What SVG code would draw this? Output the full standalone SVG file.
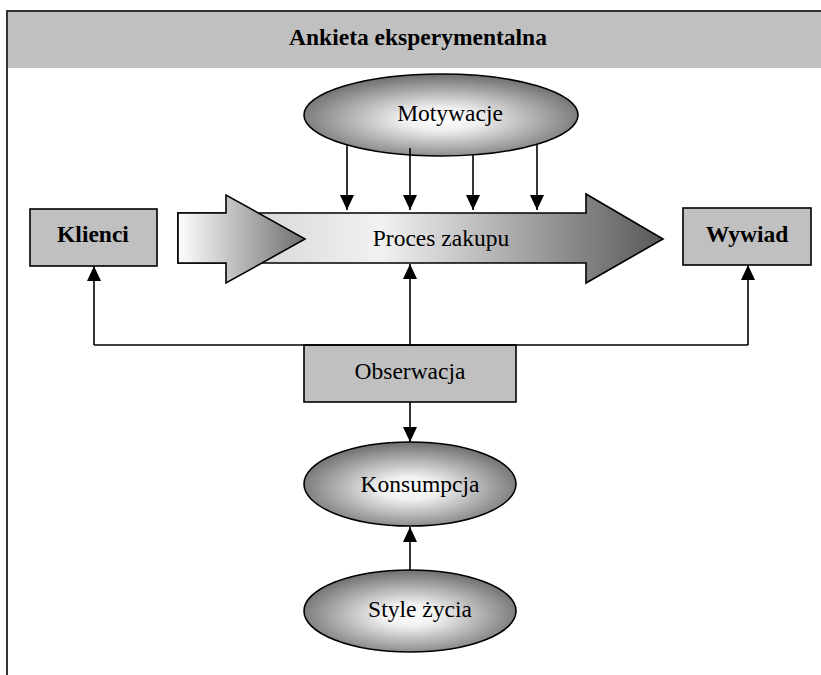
<svg xmlns="http://www.w3.org/2000/svg" width="821" height="675" viewBox="0 0 821 675">
<style>
.t{font-family:"Liberation Serif","Times New Roman",serif;font-size:23.5px;fill:#000;text-anchor:middle}
.b{font-weight:bold}
.box{fill:#c0c0c0;stroke:#000;stroke-width:1.6}
.ell{fill:url(#rg);stroke:#000;stroke-width:1.6}
.ln{fill:none;stroke:#000;stroke-width:1.6}
.arr{stroke:#000;stroke-width:1.6}
</style>
<defs>
<radialGradient id="rg" cx="50%" cy="55%" r="55%">
<stop offset="0" stop-color="#ffffff"/>
<stop offset="0.25" stop-color="#f0f0f0"/>
<stop offset="1" stop-color="#6e6e6e"/>
</radialGradient>
<linearGradient id="g2" gradientUnits="userSpaceOnUse" x1="178" y1="0" x2="663" y2="0">
<stop offset="0" stop-color="#c8c8c8"/>
<stop offset="0.42" stop-color="#f2f2f2"/>
<stop offset="1" stop-color="#585858"/>
</linearGradient>
<linearGradient id="g1" gradientUnits="userSpaceOnUse" x1="178" y1="0" x2="305" y2="0">
<stop offset="0" stop-color="#ffffff"/>
<stop offset="1" stop-color="#6e6e6e"/>
</linearGradient>
<marker id="ah" markerUnits="userSpaceOnUse" markerWidth="16" markerHeight="16" viewBox="0 0 16 16" refX="15" refY="8" orient="auto">
<path d="M0,1 L15,8 L0,15 Z" fill="#000"/>
</marker>
</defs>

<g id="frame">
<rect x="8" y="12" width="813" height="56" fill="#c0c0c0"/>
<path d="M7,675 V11 H821" fill="none" stroke="#333" stroke-width="2"/>
<text class="t b" x="418" y="45">Ankieta eksperymentalna</text>
</g>

<g id="proces">
<polygon class="arr" points="178,213 586,213 586,194 663,239 586,283 586,263 178,263" fill="url(#g2)"/>
<polygon class="arr" points="178,213 226,213 226,195 305,239 226,283 226,263 178,263" fill="url(#g1)"/>
<text class="t" x="441" y="246">Proces zakupu</text>
</g>

<g id="motywacje">
<ellipse class="ell" cx="441" cy="115" rx="137" ry="41"/>
<text class="t" x="450" y="121">Motywacje</text>
</g>

<g id="klienci">
<rect class="box" x="30" y="209" width="127" height="57"/>
<text class="t b" x="93" y="242">Klienci</text>
</g>

<g id="wywiad">
<rect class="box" x="683" y="208" width="128" height="57"/>
<text class="t b" x="747" y="242">Wywiad</text>
</g>

<g id="obserwacja">
<rect class="box" x="304" y="345" width="212" height="57"/>
<text class="t" x="410" y="379">Obserwacja</text>
</g>

<g id="konsumpcja">
<ellipse class="ell" cx="410" cy="484" rx="106" ry="42"/>
<text class="t" x="420" y="492">Konsumpcja</text>
</g>

<g id="style">
<ellipse class="ell" cx="410" cy="611" rx="106" ry="41"/>
<text class="t" x="420" y="617">Style życia</text>
</g>

<g id="connectors">
<line class="ln" x1="347" y1="145" x2="347" y2="210" marker-end="url(#ah)"/>
<line class="ln" x1="410" y1="148" x2="410" y2="210" marker-end="url(#ah)"/>
<line class="ln" x1="473" y1="155" x2="473" y2="210" marker-end="url(#ah)"/>
<line class="ln" x1="537" y1="145" x2="537" y2="210" marker-end="url(#ah)"/>
<line class="ln" x1="410" y1="345" x2="410" y2="264" marker-end="url(#ah)"/>
<line class="ln" x1="94" y1="345" x2="748" y2="345"/>
<line class="ln" x1="94" y1="345" x2="94" y2="266" marker-end="url(#ah)"/>
<line class="ln" x1="748" y1="345" x2="748" y2="265" marker-end="url(#ah)"/>
<line class="ln" x1="410" y1="402" x2="410" y2="442" marker-end="url(#ah)"/>
<line class="ln" x1="410" y1="570" x2="410" y2="527" marker-end="url(#ah)"/>
</g>
</svg>
